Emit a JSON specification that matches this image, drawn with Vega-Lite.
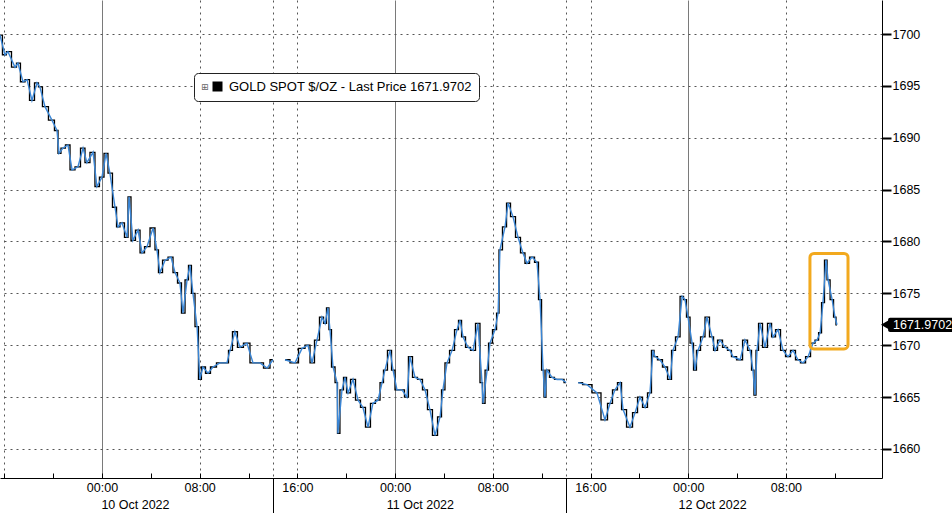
{
  "$schema": "https://vega.github.io/schema/vega-lite/v6.json",
  "width": 882,
  "height": 478,
  "autosize": {"type": "none"},
  "padding": {"left": 0, "top": 0, "right": 70, "bottom": 35},
  "background": "#ffffff",
  "config": {"view": {"stroke": null}},
  "datasets": {
    "gold": [
      {"t":"2022-10-09T15:39","p":1699.9,"s":1},{"t":"2022-10-09T16:03","p":1698.0,"s":1},{"t":"2022-10-09T16:18","p":1698.3,"s":1},{"t":"2022-10-09T16:53","p":1696.8,"s":1},{"t":"2022-10-09T17:07","p":1697.2,"s":1},{"t":"2022-10-09T17:32","p":1695.4,"s":1},{"t":"2022-10-09T17:52","p":1695.6,"s":1},{"t":"2022-10-09T18:16","p":1693.6,"s":1},{"t":"2022-10-09T18:41","p":1695.3,"s":1},{"t":"2022-10-09T18:55","p":1694.9,"s":1},{"t":"2022-10-09T19:20","p":1693.0,"s":1},{"t":"2022-10-09T19:54","p":1691.7,"s":1},{"t":"2022-10-09T20:19","p":1690.7,"s":1},{"t":"2022-10-09T20:29","p":1688.5,"s":1},{"t":"2022-10-09T20:48","p":1689.0,"s":1},{"t":"2022-10-09T21:13","p":1689.3,"s":1},{"t":"2022-10-09T21:33","p":1686.9,"s":1},{"t":"2022-10-09T22:02","p":1687.2,"s":1},{"t":"2022-10-09T22:27","p":1689.0,"s":1},{"t":"2022-10-09T22:46","p":1687.6,"s":1},{"t":"2022-10-09T23:16","p":1688.6,"s":1},{"t":"2022-10-09T23:35","p":1685.3,"s":1},{"t":"2022-10-10T00:00","p":1686.2,"s":1},{"t":"2022-10-10T00:20","p":1688.5,"s":1},{"t":"2022-10-10T00:39","p":1686.6,"s":1},{"t":"2022-10-10T01:04","p":1683.3,"s":1},{"t":"2022-10-10T01:19","p":1681.4,"s":1},{"t":"2022-10-10T01:38","p":1681.8,"s":1},{"t":"2022-10-10T02:03","p":1680.4,"s":1},{"t":"2022-10-10T02:13","p":1684.3,"s":1},{"t":"2022-10-10T02:32","p":1680.1,"s":1},{"t":"2022-10-10T02:57","p":1681.1,"s":1},{"t":"2022-10-10T03:17","p":1678.9,"s":1},{"t":"2022-10-10T03:41","p":1679.5,"s":1},{"t":"2022-10-10T04:11","p":1681.3,"s":1},{"t":"2022-10-10T04:30","p":1679.2,"s":1},{"t":"2022-10-10T04:45","p":1677.0,"s":1},{"t":"2022-10-10T05:10","p":1678.2,"s":1},{"t":"2022-10-10T05:39","p":1678.5,"s":1},{"t":"2022-10-10T05:59","p":1677.0,"s":1},{"t":"2022-10-10T06:23","p":1676.0,"s":1},{"t":"2022-10-10T06:38","p":1673.1,"s":1},{"t":"2022-10-10T06:58","p":1676.3,"s":1},{"t":"2022-10-10T07:12","p":1677.7,"s":1},{"t":"2022-10-10T07:27","p":1675.0,"s":1},{"t":"2022-10-10T07:47","p":1671.8,"s":1},{"t":"2022-10-10T08:01","p":1666.7,"s":1},{"t":"2022-10-10T08:16","p":1667.9,"s":1},{"t":"2022-10-10T08:41","p":1667.3,"s":1},{"t":"2022-10-10T09:05","p":1667.9,"s":1},{"t":"2022-10-10T09:40","p":1668.3,"s":1},{"t":"2022-10-10T10:14","p":1668.3,"s":1},{"t":"2022-10-10T10:29","p":1669.5,"s":1},{"t":"2022-10-10T10:53","p":1671.3,"s":1},{"t":"2022-10-10T11:18","p":1669.8,"s":1},{"t":"2022-10-10T11:52","p":1670.2,"s":1},{"t":"2022-10-10T12:22","p":1668.3,"s":1},{"t":"2022-10-10T12:56","p":1668.3,"s":1},{"t":"2022-10-10T13:31","p":1667.8,"s":1},{"t":"2022-10-10T14:00","p":1668.6,"s":1},
      {"t":"2022-10-10T14:59","p":1668.6,"s":2},{"t":"2022-10-10T15:48","p":1668.3,"s":2},{"t":"2022-10-10T16:23","p":1669.7,"s":2},{"t":"2022-10-10T16:52","p":1670.0,"s":2},{"t":"2022-10-10T17:12","p":1668.3,"s":2},{"t":"2022-10-10T17:36","p":1670.5,"s":2},{"t":"2022-10-10T18:01","p":1672.7,"s":2},{"t":"2022-10-10T18:16","p":1672.1,"s":2},{"t":"2022-10-10T18:30","p":1673.6,"s":2},{"t":"2022-10-10T18:40","p":1671.5,"s":2},{"t":"2022-10-10T18:55","p":1667.9,"s":2},{"t":"2022-10-10T19:15","p":1666.4,"s":2},{"t":"2022-10-10T19:19","p":1661.5,"s":2},{"t":"2022-10-10T19:39","p":1665.7,"s":2},{"t":"2022-10-10T19:54","p":1666.9,"s":2},{"t":"2022-10-10T20:09","p":1665.4,"s":2},{"t":"2022-10-10T20:33","p":1666.7,"s":2},{"t":"2022-10-10T20:58","p":1664.7,"s":2},{"t":"2022-10-10T21:22","p":1664.0,"s":2},{"t":"2022-10-10T21:47","p":1662.1,"s":2},{"t":"2022-10-10T22:11","p":1664.4,"s":2},{"t":"2022-10-10T22:36","p":1664.7,"s":2},{"t":"2022-10-10T22:56","p":1666.4,"s":2},{"t":"2022-10-10T23:10","p":1667.6,"s":2},{"t":"2022-10-10T23:35","p":1669.5,"s":2},{"t":"2022-10-10T23:50","p":1667.6,"s":2},{"t":"2022-10-11T00:09","p":1665.7,"s":2},{"t":"2022-10-11T00:34","p":1665.7,"s":2},{"t":"2022-10-11T00:58","p":1665.0,"s":2},{"t":"2022-10-11T01:13","p":1668.9,"s":2},{"t":"2022-10-11T01:38","p":1666.9,"s":2},{"t":"2022-10-11T02:02","p":1666.7,"s":2},{"t":"2022-10-11T02:27","p":1665.7,"s":2},{"t":"2022-10-11T02:51","p":1663.8,"s":2},{"t":"2022-10-11T03:16","p":1661.3,"s":2},{"t":"2022-10-11T03:41","p":1663.1,"s":2},{"t":"2022-10-11T03:55","p":1665.7,"s":2},{"t":"2022-10-11T04:15","p":1668.3,"s":2},{"t":"2022-10-11T04:40","p":1669.5,"s":2},{"t":"2022-10-11T05:04","p":1671.5,"s":2},{"t":"2022-10-11T05:19","p":1672.4,"s":2},{"t":"2022-10-11T05:34","p":1670.8,"s":2},{"t":"2022-10-11T05:58","p":1669.8,"s":2},{"t":"2022-10-11T06:23","p":1669.5,"s":2},{"t":"2022-10-11T06:47","p":1672.1,"s":2},{"t":"2022-10-11T07:07","p":1666.4,"s":2},{"t":"2022-10-11T07:12","p":1664.4,"s":2},{"t":"2022-10-11T07:32","p":1667.6,"s":2},{"t":"2022-10-11T07:46","p":1670.2,"s":2},{"t":"2022-10-11T08:11","p":1671.5,"s":2},{"t":"2022-10-11T08:26","p":1673.1,"s":2},{"t":"2022-10-11T08:35","p":1679.2,"s":2},{"t":"2022-10-11T09:00","p":1681.4,"s":2},{"t":"2022-10-11T09:15","p":1683.7,"s":2},{"t":"2022-10-11T09:39","p":1682.4,"s":2},{"t":"2022-10-11T10:04","p":1680.4,"s":2},{"t":"2022-10-11T10:28","p":1678.9,"s":2},{"t":"2022-10-11T10:48","p":1677.9,"s":2},{"t":"2022-10-11T11:13","p":1678.5,"s":2},{"t":"2022-10-11T11:37","p":1678.0,"s":2},{"t":"2022-10-11T11:52","p":1674.4,"s":2},{"t":"2022-10-11T12:07","p":1667.6,"s":2},{"t":"2022-10-11T12:16","p":1665.0,"s":2},{"t":"2022-10-11T12:26","p":1667.6,"s":2},{"t":"2022-10-11T12:51","p":1666.9,"s":2},{"t":"2022-10-11T13:15","p":1666.7,"s":2},{"t":"2022-10-11T13:40","p":1666.7,"s":2},{"t":"2022-10-11T14:00","p":1666.4,"s":2},
      {"t":"2022-10-11T14:59","p":1666.4,"s":3},{"t":"2022-10-11T15:43","p":1666.2,"s":3},{"t":"2022-10-11T16:32","p":1665.4,"s":3},{"t":"2022-10-11T17:11","p":1662.8,"s":3},{"t":"2022-10-11T17:36","p":1664.4,"s":3},{"t":"2022-10-11T18:00","p":1665.7,"s":3},{"t":"2022-10-11T18:25","p":1666.4,"s":3},{"t":"2022-10-11T18:40","p":1663.8,"s":3},{"t":"2022-10-11T19:14","p":1662.1,"s":3},{"t":"2022-10-11T19:39","p":1663.5,"s":3},{"t":"2022-10-11T20:03","p":1665.0,"s":3},{"t":"2022-10-11T20:28","p":1664.0,"s":3},{"t":"2022-10-11T20:52","p":1665.4,"s":3},{"t":"2022-10-11T21:07","p":1669.5,"s":3},{"t":"2022-10-11T21:17","p":1668.9,"s":3},{"t":"2022-10-11T21:41","p":1668.6,"s":3},{"t":"2022-10-11T22:06","p":1667.9,"s":3},{"t":"2022-10-11T22:31","p":1666.7,"s":3},{"t":"2022-10-11T22:45","p":1669.5,"s":3},{"t":"2022-10-11T23:10","p":1670.8,"s":3},{"t":"2022-10-11T23:30","p":1674.7,"s":3},{"t":"2022-10-11T23:44","p":1674.4,"s":3},{"t":"2022-10-11T23:59","p":1672.7,"s":3},{"t":"2022-10-12T00:19","p":1670.2,"s":3},{"t":"2022-10-12T00:33","p":1667.6,"s":3},{"t":"2022-10-12T00:48","p":1669.5,"s":3},{"t":"2022-10-12T01:13","p":1670.8,"s":3},{"t":"2022-10-12T01:32","p":1672.7,"s":3},{"t":"2022-10-12T01:57","p":1670.8,"s":3},{"t":"2022-10-12T02:12","p":1669.5,"s":3},{"t":"2022-10-12T02:36","p":1670.5,"s":3},{"t":"2022-10-12T03:01","p":1669.8,"s":3},{"t":"2022-10-12T03:25","p":1669.5,"s":3},{"t":"2022-10-12T03:40","p":1668.9,"s":3},{"t":"2022-10-12T04:15","p":1668.6,"s":3},{"t":"2022-10-12T04:39","p":1670.5,"s":3},{"t":"2022-10-12T05:04","p":1669.5,"s":3},{"t":"2022-10-12T05:18","p":1667.6,"s":3},{"t":"2022-10-12T05:28","p":1665.2,"s":3},{"t":"2022-10-12T05:38","p":1669.5,"s":3},{"t":"2022-10-12T05:53","p":1672.1,"s":3},{"t":"2022-10-12T06:17","p":1669.8,"s":3},{"t":"2022-10-12T06:42","p":1672.1,"s":3},{"t":"2022-10-12T06:57","p":1670.8,"s":3},{"t":"2022-10-12T07:21","p":1671.5,"s":3},{"t":"2022-10-12T07:46","p":1669.5,"s":3},{"t":"2022-10-12T08:10","p":1668.9,"s":3},{"t":"2022-10-12T08:35","p":1669.5,"s":3},{"t":"2022-10-12T08:59","p":1668.6,"s":3},{"t":"2022-10-12T09:24","p":1668.3,"s":3},{"t":"2022-10-12T09:49","p":1668.9,"s":3},{"t":"2022-10-12T10:13","p":1670.2,"s":3},{"t":"2022-10-12T10:33","p":1670.5,"s":3},{"t":"2022-10-12T10:48","p":1671.2,"s":3},{"t":"2022-10-12T11:02","p":1674.1,"s":3},{"t":"2022-10-12T11:17","p":1678.2,"s":3},{"t":"2022-10-12T11:27","p":1676.3,"s":3},{"t":"2022-10-12T11:47","p":1674.4,"s":3},{"t":"2022-10-12T12:01","p":1672.7,"s":3},{"t":"2022-10-12T12:11","p":1671.9702,"s":3}
    ],
    "box": [{"t":"2022-10-12T09:58","t2":"2022-10-12T13:05","p":1669.64,"p2":1678.85}],
    "tag": [{"t":"2022-10-12T16:22","t2":"2022-10-12T22:30","tp":"2022-10-12T16:07","tt":"2022-10-12T16:46","p":1671.28,"p2":1672.66,"last":1671.9702,"label":"1671.9702"}]
  },
  "resolve": {"axis": {"x": "independent"}},
  "layer": [
    {
      "data": {"name": "gold"},
      "mark": {"type": "line", "interpolate": "step", "color": "#000000", "strokeWidth": 1.3},
      "encoding": {
        "x": {"field": "t", "type": "temporal",
          "scale": {"domain": [{"year": 2022, "month": 10, "date": 9, "hours": 15, "minutes": 39}, {"year": 2022, "month": 10, "date": 12, "hours": 15, "minutes": 52}]},
          "axis": {
            "title": null, "orient": "bottom",
            "values": [
              {"year": 2022, "month": 10, "date": 9, "hours": 16}, {"year": 2022, "month": 10, "date": 9, "hours": 20},
              {"year": 2022, "month": 10, "date": 10, "hours": 0}, {"year": 2022, "month": 10, "date": 10, "hours": 4}, {"year": 2022, "month": 10, "date": 10, "hours": 8}, {"year": 2022, "month": 10, "date": 10, "hours": 12}, {"year": 2022, "month": 10, "date": 10, "hours": 16}, {"year": 2022, "month": 10, "date": 10, "hours": 20},
              {"year": 2022, "month": 10, "date": 11, "hours": 0}, {"year": 2022, "month": 10, "date": 11, "hours": 4}, {"year": 2022, "month": 10, "date": 11, "hours": 8}, {"year": 2022, "month": 10, "date": 11, "hours": 12}, {"year": 2022, "month": 10, "date": 11, "hours": 16}, {"year": 2022, "month": 10, "date": 11, "hours": 20},
              {"year": 2022, "month": 10, "date": 12, "hours": 0}, {"year": 2022, "month": 10, "date": 12, "hours": 4}, {"year": 2022, "month": 10, "date": 12, "hours": 8}, {"year": 2022, "month": 10, "date": 12, "hours": 12}
            ],
            "labelExpr": "(hours(datum.value) % 8 == 0 && date(datum.value) != 9) ? timeFormat(datum.value, '%H:%M') : ''",
            "labelOverlap": false, "labelFlush": false, "labelBound": false,
            "labelFont": "Liberation Sans", "labelFontSize": 12.5, "labelColor": "#000000",
            "labelPadding": 8,
            "domainColor": "#000000",
            "tickColor": "#000000", "tickSize": -5,
            "grid": true,
            "gridColor": {"condition": {"test": "hours(datum.value) == 0", "value": "#7a7a7a"}, "value": "#555555"},
            "gridDash": {"condition": {"test": "hours(datum.value) == 0", "value": []}, "value": [2, 4]},
            "gridOpacity": {"condition": {"test": "hours(datum.value) % 8 == 0", "value": 1}, "value": 0}
          }
        },
        "y": {"field": "p", "type": "quantitative",
          "scale": {"domain": [1657.2, 1703.28], "nice": false, "zero": false},
          "axis": {
            "title": null, "orient": "right", "format": "d",
            "values": [1660, 1665, 1670, 1675, 1680, 1685, 1690, 1695, 1700],
            "labelFont": "Liberation Sans", "labelFontSize": 12.5, "labelColor": "#000000",
            "labelPadding": 1,
            "domainColor": "#000000",
            "tickColor": "#000000", "tickSize": 9, "tickWidth": 2,
            "grid": true, "gridDash": [2, 4], "gridColor": "#555555"
          }
        },
        "detail": {"field": "s", "type": "nominal"}
      }
    },
    {
      "data": {"name": "gold"},
      "mark": {"type": "line", "color": "#3a86d6", "strokeWidth": 1.4},
      "encoding": {
        "x": {"field": "t", "type": "temporal", "axis": null},
        "y": {"field": "p", "type": "quantitative"},
        "detail": {"field": "s", "type": "nominal"}
      }
    },
    {
      "data": {"name": "box"},
      "mark": {"type": "rect", "fill": "transparent", "stroke": "#f2a91e", "strokeWidth": 3, "cornerRadius": 4},
      "encoding": {
        "x": {"field": "t", "type": "temporal",
          "axis": {
            "title": null, "orient": "bottom",
            "values": [
              {"year": 2022, "month": 10, "date": 10, "hours": 14},
              {"year": 2022, "month": 10, "date": 11, "hours": 14},
              {"year": 2022, "month": 10, "date": 10, "hours": 2, "minutes": 42},
              {"year": 2022, "month": 10, "date": 11, "hours": 2, "minutes": 2},
              {"year": 2022, "month": 10, "date": 12, "hours": 1, "minutes": 57}
            ],
            "labelExpr": "hours(datum.value) == 14 ? '' : timeFormat(datum.value, '%d %b %Y')",
            "labelOverlap": false, "labelFlush": false, "labelBound": false,
            "labelFont": "Liberation Sans", "labelFontSize": 12.5, "labelColor": "#000000",
            "labelPadding": -15,
            "domain": false,
            "tickColor": "#000000", "tickSize": 35,
            "tickOpacity": {"condition": {"test": "hours(datum.value) == 14", "value": 1}, "value": 0},
            "grid": true, "gridDash": [2, 4], "gridColor": "#555555",
            "gridOpacity": {"condition": {"test": "hours(datum.value) == 14", "value": 1}, "value": 0}
          }
        },
        "x2": {"field": "t2"},
        "y": {"field": "p", "type": "quantitative"},
        "y2": {"field": "p2"}
      }
    },
    {
      "data": {"name": "tag"},
      "mark": {"type": "rect", "cornerRadius": 2},
      "encoding": {
        "x": {"field": "t", "type": "temporal", "axis": null},
        "x2": {"field": "t2"},
        "y": {"field": "p", "type": "quantitative"},
        "y2": {"field": "p2"},
        "color": {"datum": "GOLD SPOT $/OZ - Last Price 1671.9702", "type": "nominal",
          "scale": {"range": ["#000000"]},
          "legend": {
            "orient": "none", "legendX": 194, "legendY": 73,
            "title": "\u229e", "titleOrient": "left", "titleFont": "DejaVu Sans", "titleFontSize": 9, "titleFontWeight": "normal", "titleColor": "#666666", "titlePadding": 2,
            "symbolType": "square", "symbolSize": 100, "symbolStrokeWidth": 0,
            "labelFont": "Liberation Sans", "labelFontSize": 13, "labelColor": "#000000", "labelOffset": 5, "labelLimit": 400,
            "strokeColor": "#222222", "fillColor": "#ffffff", "cornerRadius": 4, "padding": 7
          }
        }
      }
    },
    {
      "data": {"name": "tag"},
      "mark": {"type": "point", "shape": "triangle-left", "filled": true, "color": "#000000", "size": 90, "opacity": 1},
      "encoding": {
        "x": {"field": "tp", "type": "temporal", "axis": null},
        "y": {"field": "last", "type": "quantitative"}
      }
    },
    {
      "data": {"name": "tag"},
      "mark": {"type": "text", "align": "left", "baseline": "middle", "color": "#ffffff", "font": "Liberation Sans", "fontSize": 12.5},
      "encoding": {
        "x": {"field": "tt", "type": "temporal", "axis": null},
        "y": {"field": "last", "type": "quantitative"},
        "text": {"field": "label"}
      }
    }
  ]
}
